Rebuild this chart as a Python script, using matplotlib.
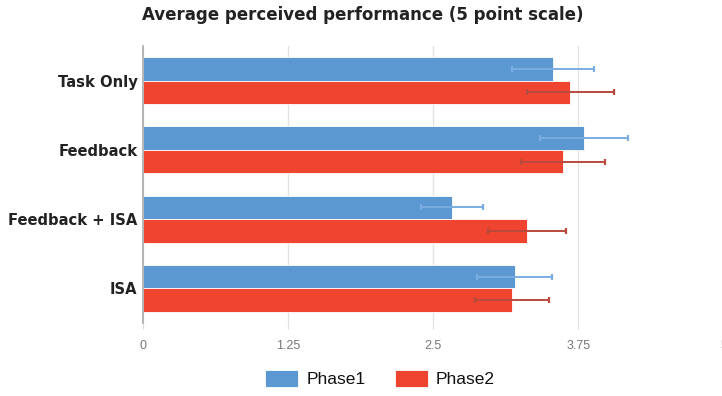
import numpy as np
import matplotlib
matplotlib.use("Agg")
import matplotlib.pyplot as plt

# DATA

categories = ["Task Only", "Feedback", "Feedback + ISA", "ISA"]
phase1 = [3.53, 3.80, 2.66, 3.20]
phase2 = [3.68, 3.62, 3.31, 3.18]
phase1_err = [0.355, 0.38, 0.265, 0.32]
phase2_err = [0.375, 0.36, 0.335, 0.32]
xticks = [0, 1.25, 2.5, 3.75, 5]
xtick_labels = ["0", "1.25", "2.5", "3.75", "5"]

BLUE = "#5b97d1"
RED = "#ef4530"
BLUE_ERR = "#7aaee2"
RED_ERR = "#b84a3e"

# PLOT

fig = plt.figure(figsize=(7.22, 3.96), dpi=100)
ax = fig.add_axes([143 / 722, 1 - 323 / 396, (723.5 - 143) / 722, (323 - 46) / 396])

y = np.arange(len(categories))
h = 0.34

ax.barh(y - h / 2, phase1, height=h, color=BLUE, edgecolor="white", linewidth=0.6,
        label="Phase1", zorder=2)
ax.barh(y + h / 2, phase2, height=h, color=RED, edgecolor="white", linewidth=0.6,
        label="Phase2", zorder=2)
ax.errorbar(phase1, y - h / 2, xerr=phase1_err, fmt="none", ecolor=BLUE_ERR,
            elinewidth=1.4, capsize=2.5, capthick=1.6, zorder=3)
ax.errorbar(phase2, y + h / 2, xerr=phase2_err, fmt="none", ecolor=RED_ERR,
            elinewidth=1.4, capsize=2.5, capthick=1.6, zorder=3)

ax.set_xlim(0, 5)
ax.set_ylim(len(categories) - 0.5, -0.5)

ax.set_xticks(xticks)
ax.set_xticklabels(xtick_labels, family="Liberation Sans", fontsize=9, color="#777777")
ax.tick_params(axis="x", length=4, color="#dddddd", pad=8)
ax.set_yticks(y)
ax.set_yticklabels(categories, fontsize=10.6, fontweight="bold", color="#222222")
ax.tick_params(axis="y", length=0, pad=4)

ax.grid(axis="x", color="#e3e3e3", linewidth=1, zorder=0)
ax.set_axisbelow(True)
for side in ["top", "right", "bottom"]:
    ax.spines[side].set_visible(False)
ax.spines["left"].set_color("#aaaaaa")
ax.spines["left"].set_linewidth(1.2)

fig.text(0.503, 1 - 15 / 396, "Average perceived performance (5 point scale)",
         ha="center", va="center", fontsize=12, fontweight="bold", color="#222222")

fig.legend(loc="center", bbox_to_anchor=(380 / 722, 1 - 378.5 / 396), ncol=2,
           frameon=False, prop={"family": "Liberation Sans", "size": 12.5},
           handlelength=1.9, handleheight=1.15, handletextpad=0.45, columnspacing=1.7,
           labelcolor="#111111")

plt.savefig("out.png", dpi=100)
